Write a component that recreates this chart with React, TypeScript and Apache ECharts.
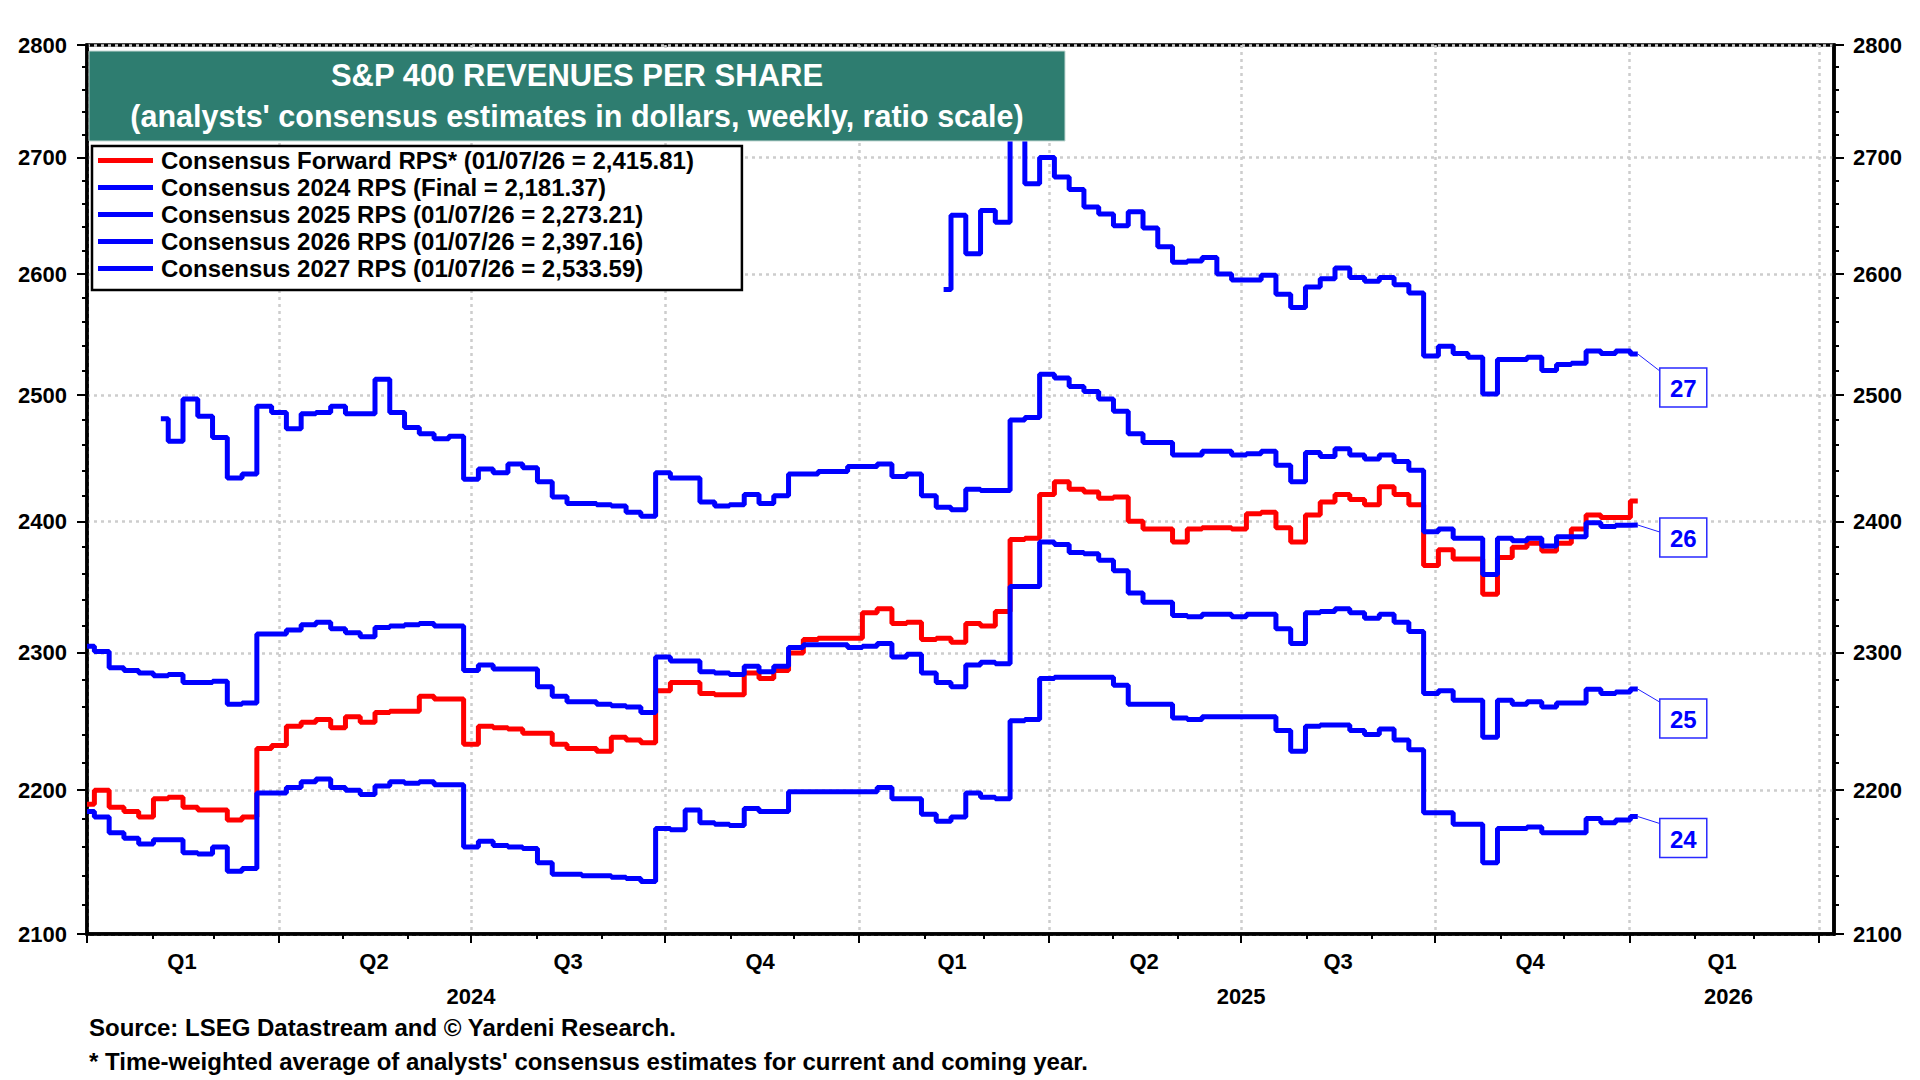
import React, { useEffect, useRef } from "react";
import * as echarts from "echarts";

const FONT = '"Liberation Sans", Arial, Helvetica, sans-serif';

// Weekly observations (Mondays), first week of 2024 through first week of 2026
const FIRST_WEEK = Date.UTC(2024, 0, 1);
const WEEK_MS = 7 * 86400000;

const forwardRPS = [
  2190, 2200, 2188, 2185, 2181, 2194, 2195, 2188, 2186, 2186,
  2179, 2181, 2230, 2232, 2246, 2249, 2251, 2245, 2253, 2249,
  2256, 2257, 2257, 2268, 2266, 2266, 2233, 2246, 2245, 2244,
  2241, 2241, 2233, 2230, 2230, 2228, 2238, 2236, 2234, 2272,
  2278, 2278, 2270, 2269, 2269, 2285, 2281, 2287, 2300, 2310,
  2311, 2311, 2311, 2330, 2333, 2322, 2323, 2310, 2311, 2308,
  2322, 2320, 2331, 2386, 2387, 2421, 2431, 2425, 2423, 2418,
  2419, 2400, 2394, 2394, 2384, 2394, 2395, 2395, 2394, 2406,
  2407, 2395, 2384, 2405, 2415, 2421, 2417, 2413, 2427, 2421,
  2413, 2366, 2378, 2371, 2371, 2344, 2372, 2380, 2383, 2377,
  2383, 2394, 2405, 2403, 2403, 2415.81,
];

const rps2024 = [
  2185, 2181, 2170, 2166, 2162, 2165, 2165, 2156, 2155, 2160,
  2143, 2145, 2198, 2198, 2202, 2206, 2208, 2202, 2200, 2197,
  2203, 2206, 2205, 2206, 2204, 2204, 2160, 2164, 2161, 2160,
  2159, 2149, 2141, 2141, 2140, 2140, 2139, 2138, 2136, 2173,
  2172, 2186, 2177, 2176, 2175, 2187, 2185, 2185, 2199, 2199,
  2199, 2199, 2199, 2199, 2202, 2194, 2194, 2183, 2178, 2181,
  2198, 2195, 2194, 2250, 2251, 2281, 2282, 2282, 2282, 2282,
  2276, 2262, 2262, 2262, 2252, 2251, 2253, 2253, 2253, 2253,
  2253, 2243, 2228, 2246, 2247, 2247, 2243, 2240, 2244, 2236,
  2229, 2184, 2184, 2176, 2176, 2149, 2173, 2173, 2174, 2170,
  2170, 2170, 2180, 2177, 2179, 2181.37,
];

const rps2025 = [
  2305, 2301, 2289, 2287, 2285, 2283, 2284, 2278, 2278, 2279,
  2262, 2263, 2314, 2314, 2317, 2321, 2323, 2318, 2315, 2312,
  2319, 2320, 2321, 2322, 2320, 2320, 2287, 2291, 2288, 2288,
  2288, 2275, 2268, 2264, 2264, 2262, 2261, 2260, 2256, 2297,
  2294, 2294, 2286, 2285, 2284, 2290, 2286, 2290, 2304, 2306,
  2306, 2306, 2304, 2305, 2307, 2297, 2299, 2285, 2278, 2275,
  2291, 2293, 2292, 2350, 2350, 2384, 2382, 2376, 2375, 2370,
  2362, 2345, 2338, 2338, 2328, 2327, 2329, 2329, 2327, 2329,
  2329, 2318, 2307, 2330, 2331, 2333, 2330, 2326, 2329, 2323,
  2316, 2270, 2272, 2265, 2265, 2238, 2265, 2262, 2264, 2260,
  2263, 2263, 2273, 2270, 2271, 2273.21,
];

// 2026 estimates begin in the 6th week of the sample
const rps2026Start = 5;
const rps2026 = [
  2481, 2463, 2497, 2483, 2466,
  2434, 2437, 2491, 2486, 2473, 2485, 2486, 2491, 2485, 2485,
  2513, 2486, 2474, 2469, 2465, 2467, 2433, 2441, 2438, 2445,
  2442, 2431, 2419, 2414, 2414, 2413, 2412, 2407, 2404, 2438,
  2434, 2434, 2415, 2412, 2413, 2421, 2414, 2420, 2437, 2437,
  2439, 2439, 2443, 2443, 2445, 2435, 2437, 2420, 2411, 2409,
  2425, 2424, 2424, 2480, 2482, 2517, 2514, 2507, 2503, 2497,
  2487, 2469, 2462, 2462, 2452, 2452, 2455, 2455, 2452, 2453,
  2455, 2444, 2431, 2454, 2451, 2457, 2452, 2449, 2452, 2447,
  2440, 2392, 2394, 2387, 2387, 2359, 2387, 2385, 2387, 2381,
  2388, 2388, 2399, 2396, 2397, 2397.16,
];

// 2027 estimates begin in February 2025
const rps2027Start = 58;
const rps2027 = [
  2587, 2650,
  2617, 2654, 2644, 2730, 2677, 2700, 2683, 2672, 2657, 2651,
  2641, 2653, 2639, 2623, 2610, 2611, 2614, 2600, 2595, 2595,
  2599, 2583, 2572, 2589, 2596, 2605, 2597, 2594, 2597, 2591,
  2584, 2532, 2540, 2534, 2531, 2501, 2529, 2529, 2531, 2520,
  2525, 2526, 2536, 2534, 2536, 2533.59,
];

const weekDates = forwardRPS.map((_, i) => FIRST_WEEK + i * WEEK_MS);

const seriesNames = [
  "Consensus Forward RPS* (01/07/26 = 2,415.81)",
  "Consensus 2024 RPS (Final = 2,181.37)",
  "Consensus 2025 RPS (01/07/26 = 2,273.21)",
  "Consensus 2026 RPS (01/07/26 = 2,397.16)",
  "Consensus 2027 RPS (01/07/26 = 2,533.59)",
];
const seriesValues = [forwardRPS, rps2024, rps2025, rps2026, rps2027];
const seriesStarts = [0, 0, 0, rps2026Start, rps2027Start];
const seriesColors = ["#ff0000", "#0000ff", "#0000ff", "#0000ff", "#0000ff"];
const endTags = ["", "24", "25", "26", "27"];
const endTagDy = [0, 2, 10, -7, 14];

const yTicks = [2100, 2200, 2300, 2400, 2500, 2600, 2700, 2800];

const d = (y: number, m: number, day: number) => Date.UTC(y, m - 1, day);
const xMin = d(2024, 1, 1);
const xMax = d(2026, 4, 8);
const quarterStarts = [
  d(2024, 1, 1), d(2024, 4, 1), d(2024, 7, 1), d(2024, 10, 1),
  d(2025, 1, 1), d(2025, 4, 1), d(2025, 7, 1), d(2025, 10, 1),
  d(2026, 1, 1), d(2026, 4, 1),
];
const quarterLabelDates = [
  d(2024, 2, 15), d(2024, 5, 16), d(2024, 8, 16), d(2024, 11, 15),
  d(2025, 2, 14), d(2025, 5, 16), d(2025, 8, 16), d(2025, 11, 15),
  d(2026, 2, 14),
];
const yearLabelDates = [d(2024, 7, 1), d(2025, 7, 1), d(2026, 2, 17)];

const titleLines = [
  "S&P 400 REVENUES PER SHARE",
  "(analysts' consensus estimates in dollars, weekly, ratio scale)",
];
const footnotes = [
  "Source: LSEG Datastream and \u00A9 Yardeni Research.",
  "* Time-weighted average of analysts' consensus estimates for current and coming year.",
];

export default function App() {
  const ref = useRef<HTMLDivElement>(null);

  useEffect(() => {
    document.body.style.margin = "0";
    const el = ref.current!;
    const chart = echarts.init(el, null, { renderer: "svg", width: 1920, height: 1080 });

    const monthStarts: number[] = [];
    for (let y = 2024; y <= 2026; y++) {
      for (let m = 1; m <= 12; m++) {
        const t = d(y, m, 1);
        if (t >= xMin && t <= xMax) monthStarts.push(t);
      }
    }
    const yMinor: number[] = [];
    for (let k = 0; k < yTicks.length - 1; k++) {
      for (let j = 1; j < 5; j++) yMinor.push(yTicks[k] + (j * (yTicks[k + 1] - yTicks[k])) / 5);
    }

    const axisFont = { fontFamily: FONT, fontWeight: "bold" as const, fontSize: 22, color: "#000" };
    const gridLine = { show: true, lineStyle: { color: "#cdcdcd", width: 2.5, type: [3, 4] as any } };

    const seriesData = seriesValues.map((vals, k) =>
      vals.map((v, j) => [weekDates[seriesStarts[k] + j], v])
    );

    const yAxisBase = { type: "log" as const, logBase: 10, min: 2100, max: 2800 };
    const xAxisBase = { type: "value" as const, min: xMin, max: xMax, position: "bottom" as const, scale: true };

    const baseGraphics: any[] = [
      {
        type: "rect",
        z: 100,
        shape: { x: 89, y: 51, width: 976, height: 90 },
        style: { fill: "#2e7d70", stroke: "#c4d9d4", lineWidth: 1 },
      },
      {
        type: "text",
        z: 101,
        x: 577,
        y: 75,
        style: {
          text: titleLines[0],
          fill: "#ffffff",
          font: `bold 31px ${FONT}`,
          textAlign: "center",
          textVerticalAlign: "middle",
          align: "center",
          verticalAlign: "middle",
        },
      },
      {
        type: "text",
        z: 101,
        x: 577,
        y: 116,
        style: {
          text: titleLines[1],
          fill: "#ffffff",
          font: `bold 30.5px ${FONT}`,
          textAlign: "center",
          textVerticalAlign: "middle",
          align: "center",
          verticalAlign: "middle",
        },
      },
      ...footnotes.map((t, i) => ({
        type: "text",
        z: 101,
        x: 89,
        y: 1027 + i * 34,
        style: {
          text: t,
          fill: "#000",
          font: `bold 24px ${FONT}`,
          textAlign: "left",
          textVerticalAlign: "middle",
          align: "left",
          verticalAlign: "middle",
        },
      })),
    ];

    const option: any = {
      animation: false,
      backgroundColor: "#ffffff",
      textStyle: { fontFamily: FONT },
      grid: {
        left: 87,
        right: 86,
        top: 45,
        bottom: 146,
        show: true,
        borderColor: "#000",
        borderWidth: 3.5,
        backgroundColor: "transparent",
      },
      legend: {
        show: true,
        orient: "vertical",
        left: 92,
        top: 146,
        data: seriesNames,
        icon: "rect",
        itemWidth: 55,
        itemHeight: 5,
        itemGap: 1,
        selectedMode: false,
        backgroundColor: "#ffffff",
        borderColor: "#000",
        borderWidth: 2.5,
        borderRadius: 0,
        padding: [1.5, 48, 8.5, 6],
        z: 10,
        textStyle: {
          fontFamily: FONT,
          fontWeight: "bold",
          fontSize: 24,
          color: "#000",
          lineHeight: 26,
          padding: [0, 0, 0, 3],
        },
      },
      xAxis: [
        {
          ...xAxisBase,
          axisLine: { show: true, onZero: false, lineStyle: { color: "#000", width: 3.5 } },
          axisTick: { show: true, customValues: quarterStarts, length: 9, lineStyle: { color: "#000", width: 2 } },
          axisLabel: {
            show: true,
            customValues: quarterLabelDates,
            margin: 16,
            formatter: (v: number) => "Q" + (Math.floor(new Date(v).getUTCMonth() / 3) + 1),
            ...axisFont,
          },
          splitLine: gridLine,
        },
        {
          ...xAxisBase,
          axisLine: { show: false },
          axisTick: { show: true, customValues: monthStarts, length: 5, lineStyle: { color: "#000", width: 2 } },
          axisLabel: { show: false },
          splitLine: { show: false },
        },
        {
          ...xAxisBase,
          axisLine: { show: false },
          axisTick: { show: false },
          axisLabel: {
            show: true,
            customValues: yearLabelDates,
            margin: 51,
            formatter: (v: number) => String(new Date(v).getUTCFullYear()),
            ...axisFont,
          },
          splitLine: { show: false },
        },
      ],
      yAxis: [
        {
          ...yAxisBase,
          position: "left",
          axisLine: { show: true, onZero: false, lineStyle: { color: "#000", width: 3.5 } },
          axisTick: { show: true, customValues: yTicks, length: 10, lineStyle: { color: "#000", width: 2 } },
          axisLabel: {
            show: true,
            customValues: yTicks,
            margin: 20,
            formatter: (v: number) => String(Math.round(v)),
            ...axisFont,
          },
          splitLine: gridLine,
        },
        {
          ...yAxisBase,
          position: "left",
          axisLine: { show: false },
          axisTick: { show: true, customValues: yMinor, length: 5, lineStyle: { color: "#000", width: 2 } },
          axisLabel: { show: false },
          splitLine: { show: false },
        },
        {
          ...yAxisBase,
          position: "right",
          axisLine: { show: true, onZero: false, lineStyle: { color: "#000", width: 3.5 } },
          axisTick: { show: true, customValues: yTicks, length: 10, lineStyle: { color: "#000", width: 2 } },
          axisLabel: {
            show: true,
            customValues: yTicks,
            margin: 19,
            formatter: (v: number) => String(Math.round(v)),
            ...axisFont,
          },
          splitLine: { show: false },
        },
        {
          ...yAxisBase,
          position: "right",
          axisLine: { show: false },
          axisTick: { show: true, customValues: yMinor, length: 5, lineStyle: { color: "#000", width: 2 } },
          axisLabel: { show: false },
          splitLine: { show: false },
        },
      ],
      series: seriesNames.map((name, k) => ({
        name,
        type: "line",
        xAxisIndex: 0,
        yAxisIndex: 0,
        step: "middle",
        symbol: "none",
        showSymbol: false,
        silent: true,
        clip: true,
        z: 3,
        data: seriesData[k],
        color: seriesColors[k],
        itemStyle: { color: seriesColors[k] },
        lineStyle: { color: seriesColors[k], width: 5 },
        emphasis: { disabled: true },
      })),
      graphic: baseGraphics,
    };

    chart.setOption(option);

    const tagGraphics: any[] = [];
    seriesNames.forEach((_, k) => {
      if (!endTags[k]) return;
      const last = seriesData[k][seriesData[k].length - 1];
      const p = chart.convertToPixel({ seriesIndex: k }, last) as number[];
      if (!p) return;
      const [px, py] = p;
      const bw = 47;
      const bh = 39;
      const bx = px + 22;
      const by = py + endTagDy[k];
      const ly = Math.min(Math.max(py + 7, by + 3), by + bh - 3);
      tagGraphics.push({
        type: "line",
        z: 50,
        shape: { x1: px, y1: py, x2: bx, y2: ly },
        style: { stroke: "#2020ff", lineWidth: 1 },
      });
      tagGraphics.push({
        type: "rect",
        z: 50,
        shape: { x: bx, y: by, width: bw, height: bh },
        style: { fill: "#ffffff", stroke: "#2a2aff", lineWidth: 1.5 },
      });
      tagGraphics.push({
        type: "text",
        z: 51,
        x: bx + bw / 2,
        y: by + bh / 2 + 1,
        style: {
          text: endTags[k],
          fill: "#0000ff",
          font: `bold 24px ${FONT}`,
          textAlign: "center",
          textVerticalAlign: "middle",
          align: "center",
          verticalAlign: "middle",
        },
      });
    });
    chart.setOption({ graphic: [...baseGraphics, ...tagGraphics] });

    return () => chart.dispose();
  }, []);

  return (
    <div
      ref={ref}
      style={{ position: "fixed", left: 0, top: 0, width: 1920, height: 1080, background: "#ffffff" }}
    />
  );
}
